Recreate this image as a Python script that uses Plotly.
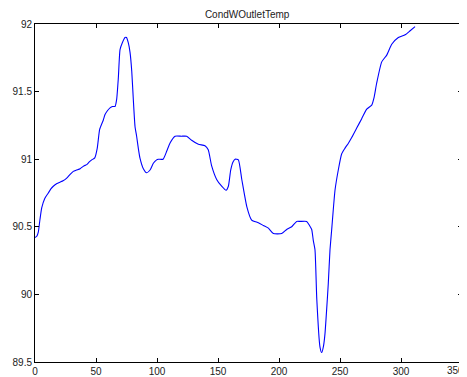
import plotly.graph_objects as go

t_vals = [0, 1.5, 2.7, 4, 5.5, 8, 10.9, 13, 15, 18, 20.5, 23, 26, 29, 31.4, 34, 37, 40, 42.4, 44.5, 46.5, 49, 51, 53, 56, 57.4, 59.5, 61.5, 63.5, 65.6, 66.9, 68.3, 69.7, 71.5, 73.8, 75, 76.5, 77.9, 79.3, 80.6, 82, 83.3, 84.7, 86, 88.8, 91.5, 94.3, 97, 99.7, 101, 105, 108, 110.7, 114.8, 120, 124.3, 128.4, 133.9, 139.3, 142, 144.8, 148.9, 153, 156.6, 158.5, 160.4, 162.3, 164, 166.7, 169.5, 173.6, 177.6, 183.1, 187.2, 191.3, 195.4, 202.2, 206.3, 210.4, 214.5, 217.2, 222.7, 225, 226.8, 228.1, 229.5, 231, 233.6, 235, 236.5, 237.7, 239, 240.4, 241.8, 243.2, 245.9, 248.6, 251.4, 254, 257, 259.6, 263.7, 267.8, 271.9, 276, 278, 280, 284.2, 288.3, 292.4, 297.8, 303.4, 307.5, 311.5]
v_vals = [90.42, 90.43, 90.46, 90.55, 90.64, 90.71, 90.75, 90.78, 90.80, 90.82, 90.83, 90.84, 90.86, 90.89, 90.91, 90.92, 90.93, 90.95, 90.96, 90.98, 90.995, 91.01, 91.08, 91.22, 91.29, 91.33, 91.36, 91.38, 91.39, 91.39, 91.44, 91.6, 91.81, 91.86, 91.90, 91.90, 91.86, 91.79, 91.65, 91.44, 91.24, 91.17, 91.08, 91.01, 90.93, 90.90, 90.92, 90.97, 90.995, 91.0, 91.0, 91.06, 91.12, 91.17, 91.17, 91.17, 91.14, 91.11, 91.10, 91.07, 90.95, 90.85, 90.80, 90.77, 90.80, 90.92, 90.98, 91.0, 90.995, 90.85, 90.65, 90.55, 90.53, 90.51, 90.49, 90.45, 90.45, 90.48, 90.50, 90.54, 90.54, 90.54, 90.51, 90.48, 90.40, 90.33, 89.96, 89.61, 89.57, 89.62, 89.71, 89.88, 90.08, 90.33, 90.48, 90.77, 90.92, 91.04, 91.08, 91.12, 91.16, 91.23, 91.30, 91.37, 91.40, 91.46, 91.56, 91.72, 91.77, 91.85, 91.90, 91.92, 91.95, 91.98]

x_ticks = [0, 50, 100, 150, 200, 250, 300, 350]
y_ticks = [89.5, 90, 90.5, 91, 91.5, 92]
title_text = "CondWOutletTemp"

label_font = dict(family="Liberation Sans, Arial, sans-serif", size=10, color="#222")

fig = go.Figure()
fig.add_trace(go.Scatter(x=t_vals, y=v_vals, mode="lines",
                         line=dict(color="rgb(0,0,255)", width=1.1, shape="spline", smoothing=0.5),
                         showlegend=False, hoverinfo="skip"))

axis_common = dict(showgrid=False, zeroline=False, showline=True, linecolor="black",
                   linewidth=1, mirror="ticks", ticks="inside", ticklen=4,
                   tickcolor="black", tickwidth=1, automargin=False,
                   tickfont=label_font)

# last x tick label sits at the page edge; draw it as an annotation nudged to stay inside the page
fig.add_annotation(x=x_ticks[-1], y=0, xref="x", yref="paper", text=str(x_ticks[-1]),
                   showarrow=False, xanchor="right", xshift=4, yanchor="top", yshift=-1,
                   font=label_font)

# page body adds an 8px offset, so the figure is sized to fit the remaining window
fig.update_layout(
    width=459, height=369,
    paper_bgcolor="white", plot_bgcolor="white",
    margin=dict(l=27, r=5, t=16, b=15, autoexpand=False),
    title=dict(text=title_text, x=0.521, xanchor="center", xref="container",
               y=0.983, yanchor="middle", yref="container",
               font=label_font),
    xaxis=dict(range=[0, 350], tickvals=x_ticks, ticktext=[str(v) for v in x_ticks], **axis_common),
    yaxis=dict(range=[89.5, 92], tickvals=y_ticks, ticktext=[("%g" % v) for v in y_ticks], **axis_common),
)

fig.write_html("out.html")
